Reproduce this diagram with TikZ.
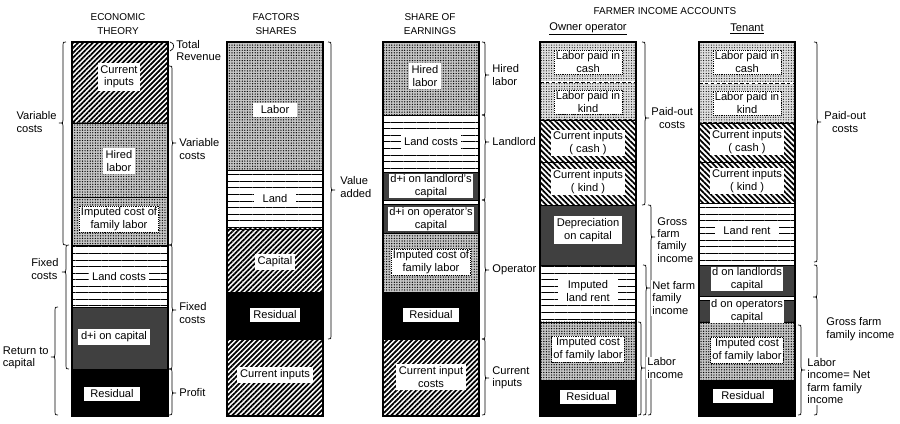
\documentclass[tikz,border=0pt]{standalone}
\usepackage{fontspec}
\setmainfont{Liberation Sans}
\usetikzlibrary{patterns.meta}
\def \colw{96}
\def \xa{72}
\def \xb{227}
\def \xc{383}
\def \xd{540}
\def \xe{699}
\def \ytop{42}
\def \ybot{416}
\newcommand{\lblfont}{\fontsize{9.5}{10.5}\selectfont}
% curly bracket: x, top, tip, bottom, end offset, tip offset
\newcommand{\brc}[6]{\draw[brc] ({#1+(#5)},#2) .. controls (#1,#2) .. (#1,#2+3) -- (#1,#3-3) .. controls (#1,#3) .. ({#1+(#6)},#3) .. controls (#1,#3) .. (#1,#3+3) -- (#1,#4-3) .. controls (#1,#4) .. ({#1+(#5)},#4);}
\newcommand{\rb}[4]{\brc{#1}{#2}{#3}{#4}{-3}{4}}
\newcommand{\lb}[4]{\brc{#1}{#2}{#3}{#4}{3}{-4}}
\tikzset{
  brc/.style={line width=0.6pt},
  seg/.style={draw, line width=0.5pt},
  hatch/.style={seg, pattern={Lines[angle=45,distance=3pt,line width=1.5pt]}},
  bhatch/.style={seg, pattern={Lines[angle=-45,distance=3.3pt,line width=1.5pt]}},
  hlines/.style={seg, pattern={Lines[angle=0,distance=5.6pt,line width=0.7pt]}},
  dotfill/.style={seg, preaction={fill=gray!45}, pattern={Dots[distance=2.2pt,radius=0.6pt]}},
  ldotfill/.style={seg, preaction={fill=gray!25}, pattern={Dots[distance=2.2pt,radius=0.5pt]}},
  capfill/.style={seg, fill=black!75},
  blk/.style={seg, fill=black},
  colbox/.style={draw, line width=1.3pt},
  lbl/.style={fill=white, inner sep=2.5pt, align=center, font=\lblfont},
  dlbl/.style={lbl, draw, densely dotted, line width=0.6pt},
  note/.style={fill=white, inner sep=1pt, font=\lblfont},
  hdr/.style={align=center, font=\fontsize{8.5}{12}\selectfont},
}

\begin{document}
\begin{tikzpicture}[x=0.3mm, y=-0.3mm]
  \useasboundingbox (0,0) rectangle (900,424);

  \node[hdr] (h1) at (118,24) {ECONOMIC\\THEORY};
  \node[hdr] (h2) at (276,24) {FACTORS\\SHARES};
  \node[hdr] (h3) at (430,24) {SHARE OF\\EARNINGS};
  \node[hdr] (h4) at (665,11) {FARMER INCOME ACCOUNTS};
  \node[hdr, font=\lblfont] (h5) at (\xd+48,29) {\underline{Owner operator}};
  \node[hdr, font=\lblfont] (h6) at (\xe+48,29) {\underline{Tenant}};

  % economic theory
  \draw[hatch] (\xa,\ytop) rectangle (\xa+\colw,123);
  \draw[dotfill] (\xa,123) rectangle (\xa+\colw,197);
  \draw[dotfill] (\xa,197) rectangle (\xa+\colw,245);
  \draw[hlines] (\xa,245) rectangle (\xa+\colw,307);
  \draw[capfill] (\xa,307) rectangle (\xa+\colw,369);
  \draw[blk] (\xa,369) rectangle (\xa+\colw,\ybot);
  \draw[colbox] (\xa,\ytop) rectangle (\xa+\colw,\ybot);
  \node[lbl] (ci1) at (\xa+47,77) {Current\\inputs};
  \node[lbl] (hl1) at (\xa+47,161) {Hired\\labor};
  \node[dlbl, inner sep=1.5pt] (ic1) at (\xa+47,219) {Imputed cost of\\family labor};
  \node[lbl] (lc1) at (\xa+47,277) {Land costs};
  \node[lbl] (dc1) at (\xa+42,337) {d+i on capital};
  \node[lbl, inner xsep=5pt] (rs1) at (\xa+40,394) {Residual};

  \lb{63}{42}{123}{245}
  \lb{66}{245}{272}{369}
  \lb{55}{307}{357}{415}
  \node[note, anchor=east, align=left] (vc1) at (58,122) {Variable\\costs};
  \node[note, anchor=east, align=left] (fc1) at (60,269) {Fixed\\costs};
  \node[note, anchor=east, align=left] (rc1) at (50,358) {Return to\\capital};
  \draw[brc] (170,42) .. controls (175,43) and (175,49) .. (170,51);
  \rb{172}{66}{143}{245}
  \rb{172}{245}{310}{369}
  \rb{172}{369}{393}{415}
  \node[note, anchor=north west, align=left] (tr1) at (175,39) {Total\\Revenue};
  \node[note, anchor=west, align=left] (vc2) at (178,149) {Variable\\costs};
  \node[note, anchor=west, align=left] (fc2) at (178,313) {Fixed\\costs};
  \node[note, anchor=west] (pf1) at (178,393) {Profit};

  % factors shares
  \draw[dotfill] (\xb,\ytop) rectangle (\xb+\colw,170);
  \draw[hlines] (\xb,170) rectangle (\xb+\colw,229);
  \draw[hatch] (\xb,229) rectangle (\xb+\colw,292);
  \draw[blk] (\xb,292) rectangle (\xb+\colw,339);
  \draw[hatch] (\xb,339) rectangle (\xb+\colw,\ybot);
  \draw[colbox] (\xb,\ytop) rectangle (\xb+\colw,\ybot);
  \node[lbl, inner xsep=7pt] (lb2) at (\xb+48,110) {Labor};
  \node[lbl, inner xsep=7pt] (ld2) at (\xb+48,199) {Land};
  \node[lbl] (cp2) at (\xb+48,262) {Capital};
  \node[lbl] (rs2) at (\xb+48,315) {Residual};
  \node[lbl] (ci2) at (\xb+48,375) {Current inputs};
  \rb{331}{42}{190}{339}
  \node[note, anchor=west, align=left] (va2) at (339,187) {Value\\added};

  % share of earnings
  \draw[dotfill] (\xc,\ytop) rectangle (\xc+\colw,115);
  \draw[hlines] (\xc,115) rectangle (\xc+\colw,172);
  \draw[capfill] (\xc,172) rectangle (\xc+\colw,200);
  \draw[seg, fill=white] (\xc,200) rectangle (\xc+\colw,204);
  \draw[capfill] (\xc,204) rectangle (\xc+\colw,233);
  \draw[dotfill] (\xc,233) rectangle (\xc+\colw,292);
  \draw[blk] (\xc,292) rectangle (\xc+\colw,339);
  \draw[hatch] (\xc,339) rectangle (\xc+\colw,\ybot);
  \draw[colbox] (\xc,\ytop) rectangle (\xc+\colw,\ybot);
  \node[lbl] (hl3) at (\xc+42,76) {Hired\\labor};
  \node[lbl] (lc3) at (\xc+48,142) {Land costs};
  \node[lbl, inner sep=0.8pt] (dl3) at (\xc+48,186) {d+i on landlord's\\capital};
  \node[lbl, inner sep=0.8pt] (do3) at (\xc+48,219) {d+i on operator's\\capital};
  \node[dlbl, inner sep=1.5pt] (ic3) at (\xc+48,262) {Imputed cost of\\family labor};
  \node[lbl, inner xsep=5pt] (rs3) at (\xc+48,315) {Residual};
  \node[lbl] (ci3) at (\xc+48,377) {Current input\\costs};
  \rb{485}{42}{75}{115}
  \rb{485}{115}{142}{200}
  \rb{485}{200}{270}{339}
  \rb{485}{339}{378}{415}
  \node[note, anchor=west, align=left] (hl4) at (491,75) {Hired\\labor};
  \node[note, anchor=west] (ll4) at (491,142) {Landlord};
  \node[note, anchor=west] (op4) at (491,270) {Operator};
  \node[note, anchor=west, align=left] (ci4) at (491,378) {Current\\inputs};

  % owner operator
  \draw[ldotfill] (\xd,\ytop) rectangle (\xd+\colw,120);
  \draw[white, line width=2.5pt] (\xd,82) -- (\xd+\colw,82);
  \draw[densely dashed, line width=0.5pt] (\xd,82) -- (\xd+\colw,82);
  \draw[bhatch] (\xd,120) rectangle (\xd+\colw,162);
  \draw[bhatch] (\xd,162) rectangle (\xd+\colw,205);
  \draw[capfill] (\xd,205) rectangle (\xd+\colw,265);
  \draw[hlines] (\xd,265) rectangle (\xd+\colw,322);
  \draw[dotfill] (\xd,322) rectangle (\xd+\colw,380);
  \draw[blk] (\xd,380) rectangle (\xd+\colw,\ybot);
  \draw[colbox] (\xd,\ytop) rectangle (\xd+\colw,\ybot);
  \node[dlbl, inner sep=1.5pt] (pc5) at (\xd+48,62) {Labor paid in\\cash};
  \node[dlbl, inner sep=1.5pt] (pk5) at (\xd+48,102) {Labor paid in\\kind};
  \node[lbl, inner sep=1.5pt] (cc5) at (\xd+48,143) {Current inputs\\( cash )};
  \node[lbl, inner sep=1.5pt] (ck5) at (\xd+48,182) {Current inputs\\( kind )};
  \node[lbl] (dp5) at (\xd+48,230) {Depreciation\\on capital};
  \node[lbl, inner xsep=7pt] (lr5) at (\xd+48,291) {Imputed\\land rent};
  \node[dlbl, inner sep=1.5pt] (ic5) at (\xd+48,349) {Imputed cost\\of family labor};
  \node[lbl, inner xsep=5pt] (rs5) at (\xd+48,397) {Residual};
  \rb{645}{42}{118}{205}
  \rb{651}{205}{237}{415}
  \rb{646}{265}{288}{415}
  \rb{641}{322}{368}{415}
  \node[note, anchor=west, align=center] (po6) at (650,118) {Paid-out\\costs};
  \node[note, anchor=west, align=left] (gf6) at (656,240) {Gross\\farm\\family\\income};
  \node[note, anchor=west, align=left] (nf6) at (651,298) {Net farm\\family\\income};
  \node[note, anchor=west, align=left] (li6) at (646,368) {Labor\\income};

  % tenant
  \draw[ldotfill] (\xe,\ytop) rectangle (\xe+\colw,123);
  \draw[white, line width=2.5pt] (\xe,83) -- (\xe+\colw,83);
  \draw[densely dashed, line width=0.5pt] (\xe,83) -- (\xe+\colw,83);
  \draw[bhatch] (\xe,123) rectangle (\xe+\colw,162);
  \draw[bhatch] (\xe,162) rectangle (\xe+\colw,203);
  \draw[hlines] (\xe,203) rectangle (\xe+\colw,265);
  \draw[capfill] (\xe,265) rectangle (\xe+\colw,296);
  \draw[seg, fill=white] (\xe,296) rectangle (\xe+\colw,300);
  \draw[capfill] (\xe,300) rectangle (\xe+\colw,322);
  \draw[dotfill] (\xe,322) rectangle (\xe+\colw,380);
  \draw[blk] (\xe,380) rectangle (\xe+\colw,\ybot);
  \draw[colbox] (\xe,\ytop) rectangle (\xe+\colw,\ybot);
  \node[dlbl, inner sep=1.5pt] (pc7) at (\xe+48,62) {Labor paid in\\cash};
  \node[dlbl, inner sep=1.5pt] (pk7) at (\xe+48,103) {Labor paid in\\kind};
  \node[lbl, inner sep=1.5pt] (cc7) at (\xe+48,142) {Current inputs\\( cash )};
  \node[lbl, inner sep=1.5pt] (ck7) at (\xe+48,181) {Current inputs\\( kind )};
  \node[lbl, inner xsep=7pt] (lr7) at (\xe+48,231) {Land rent};
  \node[lbl, inner sep=0.8pt] (dl7) at (\xe+48,279) {d on landlords\\capital};
  \node[lbl, inner sep=0.8pt] (do7) at (\xe+48,311) {d on operators\\capital};
  \node[dlbl, inner sep=1.5pt] (ic7) at (\xe+48,350) {Imputed cost\\of family labor};
  \node[lbl, inner xsep=7pt] (rs7) at (\xe+44,396) {Residual};
  \rb{817}{42}{122}{262}
  \brc{817}{265}{297}{415}{-3}{-4}
  \rb{801}{325}{370}{415}
  \node[note, anchor=west, align=center] (po8) at (823,122) {Paid-out\\costs};
  \node[note, anchor=west, align=left] (gf8) at (825,329) {Gross farm\\family income};
  \node[note, anchor=west, align=left] (li8) at (806,381) {Labor\\income= Net\\farm family\\income};
\end{tikzpicture}
\end{document}
